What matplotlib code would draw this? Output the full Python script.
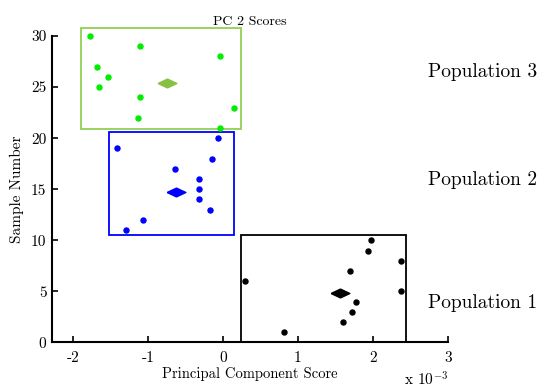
import matplotlib
matplotlib.use("Agg")
import matplotlib.pyplot as plt
from matplotlib.patches import Rectangle

plt.rcParams['font.family'] = ['cmr10', 'DejaVu Serif']
plt.rcParams['mathtext.fontset'] = 'cm'
plt.rcParams['axes.unicode_minus'] = False

# Population 1 (samples 1-10)
pop1_x = [0.81, 1.60, 1.72, 1.77, 2.38, 0.29, 1.70, 2.37, 1.93, 1.97]
pop1_y = [1, 2, 3, 4, 5, 6, 7, 8, 9, 10]
# Population 2 (samples 11-20)
pop2_x = [-1.29, -1.07, -0.17, -0.32, -0.32, -0.32, -0.64, -0.14, -1.41, -0.06]
pop2_y = [11, 12, 13, 14, 15, 16, 17, 18, 19, 20]
# Population 3 (samples 21-30)
pop3_x = [-0.04, -1.13, 0.15, -1.10, -1.65, -1.53, -1.68, -0.04, -1.11, -1.78]
pop3_y = [21, 22, 23, 24, 25, 26, 27, 28, 29, 30]

# centre markers (x, y)
centers_x = [1.555, -0.62, -0.75]
centers_y = [4.8, 14.7, 25.4]

# enclosing boxes: (x0, x1, y0, y1)
boxes = [(0.24, 2.44, 0.0, 10.52),
         (-1.52, 0.15, 10.52, 20.63),
         (-1.90, 0.235, 20.9, 30.74)]

pop_labels = ["Population 1", "Population 2", "Population 3"]
xticks = [-2, -1, 0, 1, 2, 3]
xtick_labels = ["-2", "-1", "0", "1", "2", "3"]
yticks = [0, 5, 10, 15, 20, 25, 30]

pt_colors = ['black', '#0000ff', '#00ee00']
box_colors = ['black', '#0000ff', '#8fd14f']
ctr_colors = ['black', '#0000ff', '#86c143']

wide_diamond = [(-1, 0), (0, 0.47), (1, 0), (0, -0.47), (-1, 0)]

fig = plt.figure(figsize=(5.4, 3.9), dpi=100)
ax = fig.add_axes([0.0963, 0.1218, 0.7333, 0.7859])

xs = [pop1_x, pop2_x, pop3_x]
ys = [pop1_y, pop2_y, pop3_y]
for i in range(3):
    x0, x1, y0, y1 = boxes[i]
    ax.add_patch(Rectangle((x0, y0), x1 - x0, y1 - y0, fill=False,
                           edgecolor=box_colors[i], linewidth=1.3,
                           clip_on=False, zorder=2))
    ax.plot(xs[i], ys[i], 'o', color=pt_colors[i], markersize=3.6,
            clip_on=False, zorder=3)
    ax.plot(centers_x[i], centers_y[i], marker=wide_diamond,
            color=ctr_colors[i], markersize=13.5, linestyle='none',
            clip_on=False, zorder=3)

ax.set_xlim(-2.28, 3)
ax.set_ylim(0, 30)
ax.set_xticks(xticks)
ax.set_xticklabels(xtick_labels)
ax.set_yticks(yticks)
ax.tick_params(direction='in', length=4, width=1.2, labelsize=11, pad=4)
ax.tick_params(axis='x', pad=6)
ax.spines['top'].set_visible(False)
ax.spines['right'].set_visible(False)
ax.spines['left'].set_linewidth(1.5)
ax.spines['bottom'].set_linewidth(1.5)

ax.set_title("PC 2 Scores", fontsize=10, pad=8)
ax.set_xlabel("Principal Component Score", fontsize=10.5, labelpad=2)
ax.set_ylabel("Sample Number", fontsize=11, labelpad=5)

fig.text(0.83, 0.01, r"x 10$^{-3}$", fontsize=11, ha='right', va='baseline')

label_y = [303, 180, 72]
for i in range(3):
    fig.text(0.793, 1 - label_y[i] / 390, pop_labels[i], fontsize=14,
             va='center', ha='left')

fig.savefig("out.png", dpi=100)
